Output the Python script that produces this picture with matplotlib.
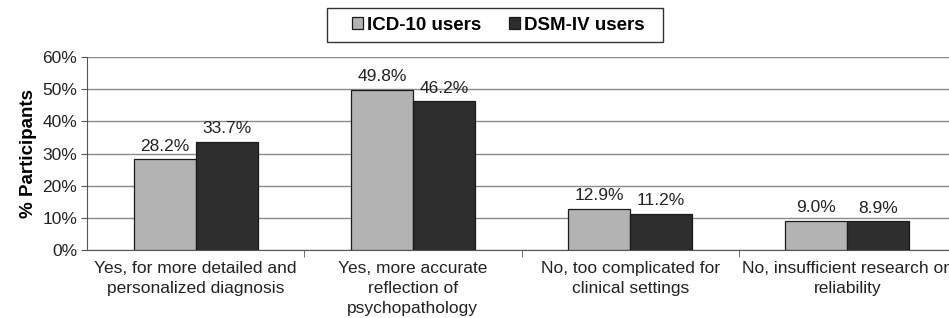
import numpy as np
import matplotlib
matplotlib.use('Agg')
import matplotlib.pyplot as plt
from matplotlib.patches import Rectangle
from matplotlib.ticker import PercentFormatter

plt.rcParams['font.family'] = ['Liberation Sans', 'DejaVu Sans']

categories = ['Yes, for more detailed and\npersonalized diagnosis',
              'Yes, more accurate\nreflection of\npsychopathology',
              'No, too complicated for\nclinical settings',
              'No, insufficient research on\nreliability']
icd10 = [28.2, 49.8, 12.9, 9.0]
dsm4 = [33.7, 46.2, 11.2, 8.9]
series_names = ['ICD-10 users', 'DSM-IV users']

W, H = 949, 318
fig = plt.figure(figsize=(W / 100, H / 100), dpi=100)
ax = fig.add_axes([87 / W, 1 - 250 / H, (956 - 87) / W, (250 - 57) / H])

x = np.arange(len(categories))
w = 1 / 3.5
b1 = ax.bar(x - w / 2, icd10, w, color='#b3b3b3', edgecolor='#1a1a1a', linewidth=0.9,
            label=series_names[0], zorder=3)
b2 = ax.bar(x + w / 2, dsm4, w, color='#2e2e2e', edgecolor='#1a1a1a', linewidth=0.9,
            label=series_names[1], zorder=3)

for bars, vals in ((b1, icd10), (b2, dsm4)):
    for rect, v in zip(bars, vals):
        ax.annotate(f'{v:.1f}%', (rect.get_x() + rect.get_width() / 2, v),
                    xytext=(0, 4), textcoords='offset points',
                    ha='center', va='bottom', fontsize=12.5, color='#222222')

ax.set_xlim(-0.5, len(categories) - 0.5)
ax.set_ylim(0, 60)
ax.set_yticks(np.arange(0, 61, 10))
ax.yaxis.set_major_formatter(PercentFormatter(decimals=0))
ax.grid(axis='y', color='#8a8a8a', linewidth=1.0, zorder=0)
ax.set_axisbelow(True)

ax.set_xticks(x)
ax.set_xticklabels(categories, fontsize=12.5, color='#222222', linespacing=1.4)
ax.tick_params(axis='x', length=0, pad=8)
ax.set_xticks(np.arange(0.5, len(categories) - 0.5, 1), minor=True)
ax.tick_params(axis='x', which='minor', length=5, color='#555555', direction='out')
ax.tick_params(axis='y', length=4, color='#555555', labelsize=12.5, labelcolor='#222222', pad=3)

for s in ('top', 'right'):
    ax.spines[s].set_visible(False)
ax.spines['left'].set_color('#555555')
ax.spines['bottom'].set_color('#555555')

ax.set_ylabel('% Participants', fontsize=13.5, fontweight='bold', labelpad=4)

# legend box drawn separately so it can be wider than the entries
fig.patches.append(Rectangle((327 / W, 1 - 42 / H), (663 - 327) / W, 34 / H,
                             transform=fig.transFigure, fill=False,
                             edgecolor='#333333', linewidth=1.0))
leg = fig.legend(handles=[b1, b2], loc='center', bbox_to_anchor=(498 / W, 1 - 25 / H),
                 ncol=2, frameon=False,
                 prop={'weight': 'bold', 'size': 13.5}, handlelength=0.6, handleheight=0.6,
                 handletextpad=0.2, columnspacing=1.5, borderpad=0.0, borderaxespad=0)

fig.savefig('out.png', dpi=100)
